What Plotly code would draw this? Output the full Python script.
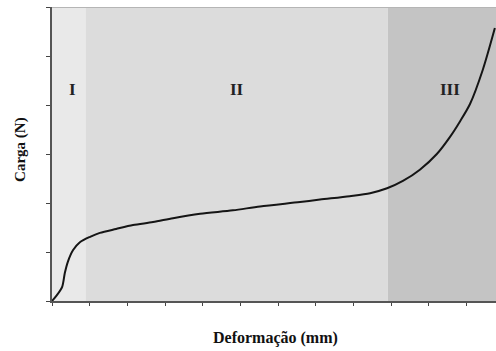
import plotly.graph_objects as go

deformacao = [0, 0.13, 0.27, 0.34, 0.42, 0.56, 0.74, 1.01, 1.27, 1.70, 2.15, 2.68, 3.21,
              3.93, 4.80, 5.52, 6.58, 7.11, 7.90, 8.44, 8.89, 9.31, 9.76, 10.21, 10.56,
              10.82, 11.09, 11.43, 11.75]
carga = [0, 0.12, 0.29, 0.57, 0.80, 1.04, 1.20, 1.31, 1.39, 1.47, 1.55, 1.61, 1.69,
         1.78, 1.85, 1.93, 2.02, 2.07, 2.14, 2.20, 2.30, 2.45, 2.68, 3.00, 3.35,
         3.66, 4.02, 4.72, 5.57]

region_labels = ["I", "II", "III"]
region_bounds = [0, 0.90, 8.91, 11.78]
region_colors = ["#e9e9e9", "#dcdcdc", "#c4c4c4"]
label_x = [0.55, 4.9, 10.55]
label_y = 4.31

fig = go.Figure()

shapes = []
for i in range(3):
    shapes.append(dict(type="rect", xref="x", yref="y", x0=region_bounds[i], x1=region_bounds[i + 1],
                       y0=0, y1=6, fillcolor=region_colors[i], line=dict(width=0), layer="below"))
shapes.append(dict(type="line", xref="paper", yref="y", x0=0, x1=1, y0=6, y1=6,
                   line=dict(color="#b5b5b5", width=2), layer="above"))
fig.update_layout(shapes=shapes)

fig.add_trace(go.Scatter(x=deformacao, y=carga, mode="lines",
                         line=dict(color="#151515", width=2, shape="spline", smoothing=0.8),
                         showlegend=False, hoverinfo="skip"))

for i, lab in enumerate(region_labels):
    fig.add_annotation(x=label_x[i], y=label_y, text="<b>" + lab + "</b>", showarrow=False,
                       font=dict(family="Liberation Serif", size=17, color="#222222"))

fig.add_annotation(xref="paper", yref="paper", x=0.503, y=-0.126, xanchor="center", yanchor="middle",
                   text="<b>Deformação (mm)</b>", showarrow=False,
                   font=dict(family="Liberation Serif", size=16, color="#111111"))
fig.add_annotation(xref="paper", yref="paper", x=-0.0698, y=0.514, xanchor="center", yanchor="middle",
                   text="<b>Carga (N)</b>", showarrow=False, textangle=-90,
                   font=dict(family="Liberation Serif", size=15, color="#111111"))

fig.update_layout(
    width=496, height=351,
    margin=dict(l=52, r=0, t=7, b=50),
    paper_bgcolor="white", plot_bgcolor="white",
    xaxis=dict(range=[0, 11.78], tickvals=list(range(0, 12)), showticklabels=False,
               ticks="outside", ticklen=3, tickcolor="#444444", showline=True,
               linecolor="#555555", linewidth=2, showgrid=False, zeroline=False),
    yaxis=dict(range=[0, 6], tickvals=list(range(0, 7)), showticklabels=False,
               ticks="outside", ticklen=4, tickcolor="#444444", showline=True,
               linecolor="#555555", linewidth=2, showgrid=False, zeroline=False),
)

fig.write_html("out.html")
